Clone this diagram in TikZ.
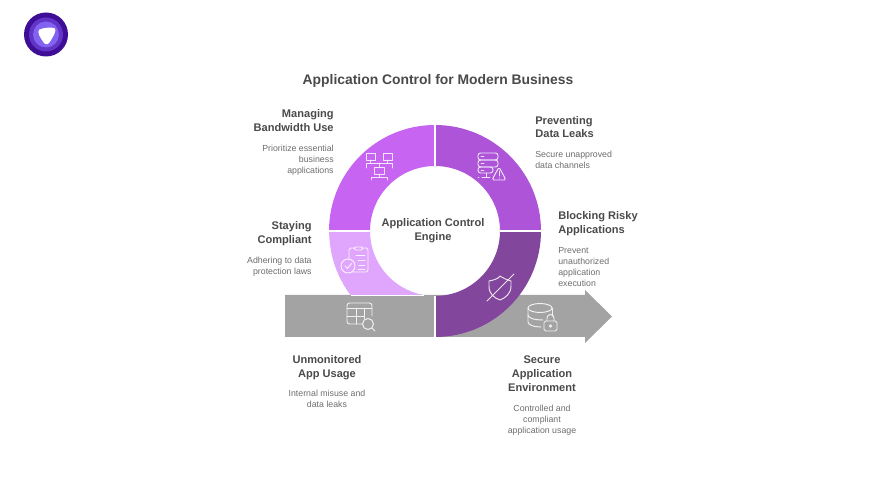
\documentclass[tikz,border=0pt]{standalone}
\usepackage{fontspec}
\setmainfont{Liberation Sans}
\usetikzlibrary{positioning}
\definecolor{segA}{HTML}{C764F2}
\definecolor{segB}{HTML}{AD54D9}
\definecolor{segC}{HTML}{82469C}
\definecolor{segD}{HTML}{E0A5FC}
\definecolor{band}{HTML}{A3A3A3}
\definecolor{ink}{HTML}{4A4A4A}
\definecolor{soft}{HTML}{6E6E6E}
\tikzset{
  heading/.style={font=\bfseries\fontsize{6.3}{7.9}\selectfont, text=ink, inner sep=0pt},
  caption/.style={font=\fontsize{5}{6.2}\selectfont, text=soft, inner sep=0pt},
  iconline/.style={draw=white, line width=0.55pt, opacity=0.85, line join=round, line cap=round},
  seam/.style={draw=white, line width=0.6pt}
}
\begin{document}
\begin{tikzpicture}[x=0.02cm, y=-0.02cm]
\useasboundingbox (0,0) rectangle (876,493);

% logo
\fill [fill=white] (0,0) rectangle (876,493);
\fill [fill={rgb,255:red,62;green,14;blue,150}] (46,34.5) circle (22);
\fill [fill={rgb,255:red,98;green,52;blue,200}] (46,34.5) circle (17);
\fill [fill={rgb,255:red,130;green,98;blue,240}] (46,34.5) circle (13);
\fill [fill=white] (39.5,29.5) .. controls (44,27.5) and (52,27) .. (55,28.5) .. controls (57,30) and (52,40) .. (48,44)
  .. controls (46.5,45) and (45,44) .. (44,43) .. controls (41,39) and (36,31.5) .. cycle;

% arrow
\fill [fill=band] (285,295) -- (585,295) -- (585,290) -- (612,316.5) -- (585,343) -- (585,337) -- (285,337) -- cycle;

% ring
\fill [fill=segD] (329,231) -- (370,231) arc [start angle=180, end angle=100, radius=65]
  -- (350.5,295) arc [start angle=143, end angle=180, radius=106] -- cycle;
\fill [fill=segA] (329,231) arc [start angle=180, end angle=270, radius=106]
  -- (435,166) arc [start angle=270, end angle=180, radius=65] -- cycle;
\fill [fill=segB] (435,125) arc [start angle=270, end angle=360, radius=106]
  -- (500,231) arc [start angle=0, end angle=-90, radius=65] -- cycle;
\fill [fill=segC] (541,231) arc [start angle=0, end angle=90, radius=106]
  -- (435,296) arc [start angle=90, end angle=0, radius=65] -- cycle;
\draw [seam] (435,125) -- (435,166);
\draw [seam] (329,231) -- (370,231);
\draw [seam] (500,231) -- (541,231);
\draw [seam] (435,296) -- (435,337);
\draw [seam, line width=0.4pt] (350.5,295) -- (424,295);

% icon: desks
\draw [iconline] (366,153) rectangle (375,160) (370.5,160) -- (370.5,163);
\draw [iconline] (383,153) rectangle (392,160) (387.5,160) -- (387.5,163);
\draw [iconline] (366,168) -- (366,163) -- (392,163) -- (392,168) (379,163) -- (379,167);
\draw [iconline] (374,167) rectangle (384,174) (379,174) -- (379,177);
\draw [iconline] (371,180) -- (371,177) -- (387,177) -- (387,180);

% icon: server and warning
\draw [iconline, rounded corners=1.5pt] (478,153) rectangle (498,160);
\draw [iconline, rounded corners=1.5pt] (478,160) rectangle (498,167);
\draw [iconline, rounded corners=1.5pt] (478,167) rectangle (493,173);
\draw [iconline] (481,156.5) -- (484,156.5) (481,163.5) -- (484,163.5) (481,170) -- (484,170);
\draw [iconline] (486,173) -- (486,177) (478,177) -- (479,177) (482,177) -- (490,177);
\draw [iconline, rounded corners=1pt] (499,167) -- (506,180) -- (492,180) -- cycle;
\draw [iconline] (499,171) -- (499,176) (499,178) -- (499,178.2);

% icon: clipboard
\draw [iconline, rounded corners=1pt] (354,248) -- (349,248) -- (349,259) (352,272) -- (368,272) -- (368,248) -- (363,248);
\draw [iconline, rounded corners=1pt] (354,250) -- (354,247) -- (363,247) -- (363,250) -- cycle;
\draw [iconline] (356,255) -- (365,255) (358,260) -- (365,260) (359,265) -- (365,265) (358,269) -- (365,269);
\draw [iconline] (348,266) circle (7);
\draw [iconline] (345,266) -- (347.5,268.5) -- (351.5,263.5);

% icon: table and lens
\draw [iconline, rounded corners=1.5pt] (362,324) -- (347,324) -- (347,303) -- (372,303) -- (372,316);
\draw [iconline] (347,308) -- (372,308) (347,316) -- (364,316) (356,308) -- (356,324) (364,308) -- (364,319);
\draw [iconline] (368,324) circle (5.5) (372,328) -- (375,331);

% icon: shield
\draw [iconline] (489,281) .. controls (495,280) and (499,278) .. (500,276) .. controls (503,278) and (507,280) .. (511,281)
  -- (511,286) .. controls (511,294) and (505,298) .. (500,300) .. controls (494,298) and (489,294) .. (489,286) -- cycle;
\draw [iconline] (487,301) -- (514,274);

% icon: database and lock
\draw [iconline] (540,308) ellipse (12 and 4.5);
\draw [iconline] (528,308) -- (528,322) .. controls (528,325) and (534,327) .. (541,327);
\draw [iconline] (528,315) .. controls (528,318) and (534,320) .. (543,320);
\draw [iconline] (552,308) -- (552,316);
\draw [iconline, rounded corners=1pt] (544,321) rectangle (557,331);
\draw [iconline] (547,321) -- (547,318) arc [start angle=180, end angle=360, radius=3.5] -- (554,321);
\draw [iconline] (550.5,326) circle (1.2);

% texts
\node (title) at (438,81) [font=\bfseries\fontsize{7.9}{9.5}\selectfont, text=ink, inner sep=0pt] {Application Control for Modern Business};
\node (engine) at (433,231) [heading, align=center] {Application Control \\ Engine};

\node (bandwidth) at (334,120.5) [heading, anchor=east, align=right] {Managing \\ Bandwidth Use};
\node (bandwidthtxt) at (334,160) [caption, anchor=east, align=right] {Prioritize essential \\ business \\ applications};

\node (compliant) at (312,234) [heading, anchor=east, align=right] {Staying \\ Compliant};
\node (complianttxt) at (312,267) [caption, anchor=east, align=right] {Adhering to data \\ protection laws};

\node (leaks) at (535,127) [heading, anchor=west, align=left] {Preventing \\ Data Leaks};
\node (leakstxt) at (535,160) [caption, anchor=west, align=left] {Secure unapproved \\ data channels};

\node (risky) at (558,224) [heading, anchor=west, align=left] {Blocking Risky \\ Applications};
\node (riskytxt) at (558,267) [caption, anchor=west, align=left] {Prevent \\ unauthorized \\ application \\ execution};

\node (usage) at (327,367.5) [heading, align=center] {Unmonitored \\ App Usage};
\node (usagetxt) at (327,399) [caption, align=center] {Internal misuse and \\ data leaks};

\node (secure) at (542,373.5) [heading, align=center] {Secure \\ Application \\ Environment};
\node (securetxt) at (542,420) [caption, align=center] {Controlled and \\ compliant \\ application usage};

\end{tikzpicture}
\end{document}
